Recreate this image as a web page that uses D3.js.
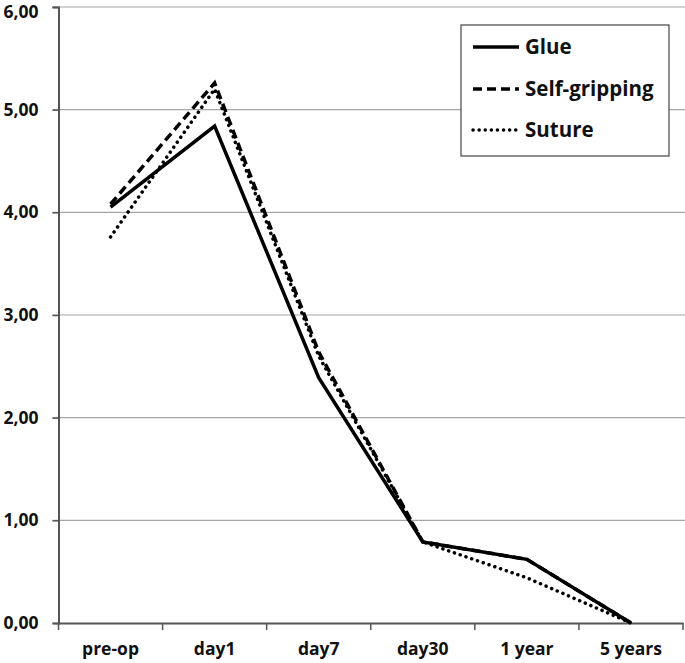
<!DOCTYPE html>
<html><head><meta charset="utf-8">
<script src="https://cdn.jsdelivr.net/npm/d3@7"></script>
<style>body{margin:0;background:#fff}svg{display:block}</style>
</head><body>
<script>
const categories = ["pre-op","day1","day7","day30","1 year","5 years"];
const glue = [4.05, 4.84, 2.39, 0.79, 0.62, 0.0];
const selfGripping = [4.08, 5.26, 2.64, 0.79, 0.62, 0.0];
const suture = [3.76, 5.2, 2.6, 0.79, 0.44, 0.0];
const yTicks = [0,1,2,3,4,5,6];
const seriesNames = ["Glue","Self-gripping","Suture"];

(function(){
const W = 685, H = 663;
const mLeft = 58.5, mRight = 683, mTop = 7, mBottom = 623;
const svg = d3.select("body").append("svg").attr("width", W).attr("height", H);

const x = d3.scaleBand().domain(categories).range([mLeft, mRight]);
const y = d3.scaleLinear().domain([0, 6]).range([mBottom, mTop]);
const font = "'Open Sans', sans-serif";

// gridlines
svg.append("g").selectAll("line").data(yTicks.filter(d => d > 0)).join("line")
  .attr("x1", mLeft - 6).attr("x2", W).attr("y1", d => y(d)).attr("y2", d => y(d))
  .attr("stroke", "#a6a6a6").attr("stroke-width", 1.2);

// y axis
const yAxis = svg.append("g").attr("transform", `translate(${mLeft},0)`)
  .call(d3.axisLeft(y).tickValues(yTicks).tickSize(6).tickFormat(d => d3.format(".2f")(d).replace(".", ",")));
yAxis.select(".domain").attr("stroke", "#555").attr("stroke-width", 2);
yAxis.selectAll(".tick line").attr("stroke", "#555").attr("stroke-width", 1.5);
yAxis.selectAll("text").attr("font-family", font).attr("font-weight", "bold")
  .attr("font-size", 17.5).attr("fill", "#111").attr("x", -20).attr("text-anchor", "end")
  .attr("dy", d => d === 6 ? "0.62em" : "0.32em");

// x axis
const xAxis = svg.append("g").attr("transform", `translate(0,${mBottom})`)
  .call(d3.axisBottom(x).tickSize(0).tickPadding(20));
xAxis.select(".domain").attr("stroke", "#555").attr("stroke-width", 2);
xAxis.selectAll("text").attr("font-family", font).attr("font-weight", "bold")
  .attr("font-size", 17.5).attr("fill", "#111");
// category boundary ticks
svg.append("g").selectAll("line").data(categories.concat(["_end"])).join("line")
  .attr("x1", (d, i) => mLeft + i * x.step()).attr("x2", (d, i) => mLeft + i * x.step())
  .attr("y1", mBottom).attr("y2", mBottom + 7).attr("stroke", "#555").attr("stroke-width", 1.5);

const cx = d => x(d) + x.bandwidth() / 2;
const line = d3.line().x((d, i) => cx(categories[i])).y(d => y(d));

const styles = [
  {data: glue, dash: null, cap: "butt"},
  {data: selfGripping, dash: "9,5", cap: "butt"},
  {data: suture, dash: "0.1,6", cap: "round"}
];
[2, 1, 0].forEach(i => {
  const s = styles[i];
  svg.append("path").attr("d", line(s.data)).attr("fill", "none")
    .attr("stroke", "#000").attr("stroke-width", 3.5)
    .attr("stroke-dasharray", s.dash).attr("stroke-linecap", s.cap)
    .attr("stroke-linejoin", "miter");
});

// legend
const lg = svg.append("g");
lg.append("rect").attr("x", 461).attr("y", 25).attr("width", 208).attr("height", 131)
  .attr("fill", "#fff").attr("stroke", "#444").attr("stroke-width", 1.2);
const ly = [47, 89, 130];
seriesNames.forEach((name, i) => {
  lg.append("line").attr("x1", 473).attr("x2", i === 2 ? 517 : 519).attr("y1", ly[i]).attr("y2", ly[i])
    .attr("stroke", "#000").attr("stroke-width", 3.5)
    .attr("stroke-dasharray", styles[i].dash).attr("stroke-linecap", styles[i].cap);
  lg.append("text").attr("x", 525).attr("y", ly[i]).attr("dy", "0.35em")
    .attr("font-family", font).attr("font-weight", "bold").attr("font-size", 20.5)
    .attr("fill", "#111").text(name);
});
})();
</script>
</body></html>
